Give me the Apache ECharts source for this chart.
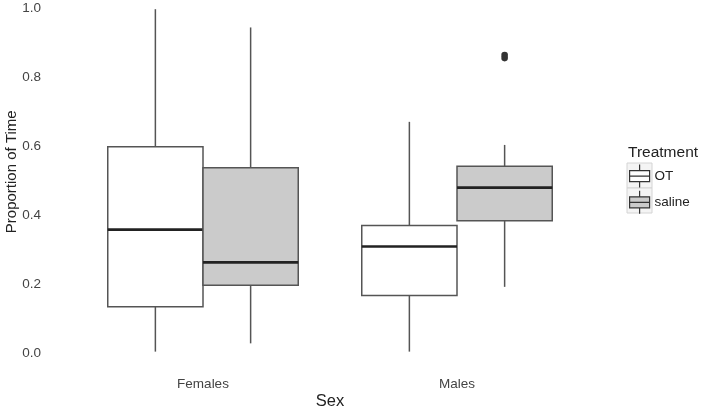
<!DOCTYPE html>
<html>
<head>
<meta charset="utf-8">
<script src="https://cdn.jsdelivr.net/npm/echarts@6/dist/echarts.min.js"></script>
<style>
  html, body { margin: 0; padding: 0; background: #fff; }
  #chart { width: 708px; height: 410px; }
</style>
</head>
<body>
<div id="chart"></div>
<script>
// data: [lower whisker, Q1, median, Q3, upper whisker]
var sexes = ['Females', 'Males'];
var otStats = [
    [0.004, 0.134, 0.358, 0.599, 0.998],
    [0.004, 0.167, 0.309, 0.370, 0.671]
];
var salineStats = [
    [0.028, 0.197, 0.263, 0.538, 0.945],
    [0.192, 0.384, 0.480, 0.542, 0.604]
];
// outliers for saline, per sex index
var salineOutliers = [
    [1, 0.865],
    [1, 0.856]
];

var BOX_HALF = 0.1875; // half box width as a fraction of the band
var lineColor = '#555555';
var font = 'Liberation Sans, Arial, sans-serif';

function toRows(stats) {
    return stats.map(function (s, i) { return [i].concat(s); });
}

function boxRender(side) {
    return function (params, api) {
        var band = api.size([1, 0])[0];
        var half = band * BOX_HALF;
        var cx = api.coord([api.value(0), 0])[0] + side * half;
        var y = function (d) { return api.coord([api.value(0), api.value(d)])[1]; };
        var lo = y(1), q1 = y(2), md = y(3), q3 = y(4), hi = y(5);
        var fill = api.visual('color');
        var ln = { stroke: lineColor, lineWidth: 1.5 };
        return {
            type: 'group',
            children: [
                { type: 'line', shape: { x1: cx, y1: hi, x2: cx, y2: q3 }, style: ln },
                { type: 'line', shape: { x1: cx, y1: q1, x2: cx, y2: lo }, style: ln },
                { type: 'rect', shape: { x: cx - half, y: q3, width: half * 2, height: q1 - q3 },
                  style: { fill: fill, stroke: lineColor, lineWidth: 1.5 } },
                { type: 'line', shape: { x1: cx - half, y1: md, x2: cx + half, y2: md },
                  style: { stroke: '#222222', lineWidth: 2.6 } }
            ]
        };
    };
}

function outlierRender(side) {
    return function (params, api) {
        var band = api.size([1, 0])[0];
        var p = api.coord([api.value(0), api.value(1)]);
        return {
            type: 'circle',
            shape: { cx: p[0] + side * band * BOX_HALF, cy: p[1], r: 3.3 },
            style: { fill: '#333333' }
        };
    };
}

var boxIcon = 'path://M10,0L10,6M0,6L20,6L20,17L0,17ZM0,11.5L20,11.5M10,17L10,23';

var chart = echarts.init(document.getElementById('chart'));
chart.setOption({
    animation: false,
    textStyle: { fontFamily: font },
    title: {
        text: 'Treatment',
        left: 628,
        top: 145,
        padding: 0,
        textStyle: { fontSize: 15.5, fontWeight: 'normal', color: '#222222', fontFamily: font }
    },
    legend: {
        orient: 'vertical',
        left: 629,
        top: 164,
        padding: 0,
        itemWidth: 20,
        itemHeight: 23,
        itemGap: 2,
        textStyle: { fontSize: 13.5, color: '#222222' },
        itemStyle: { borderColor: '#333333', borderWidth: 1.2 },
        data: [
            { name: 'OT', icon: boxIcon },
            { name: 'saline', icon: boxIcon }
        ]
    },
    graphic: [
        { type: 'rect', z: 0, shape: { x: 627, y: 163, width: 25, height: 25 },
          style: { fill: '#f4f4f4', stroke: '#d4d4d4', lineWidth: 1 } },
        { type: 'rect', z: 0, shape: { x: 627, y: 188, width: 25, height: 25 },
          style: { fill: '#f4f4f4', stroke: '#d4d4d4', lineWidth: 1 } }
    ],
    grid: { left: 76, right: 124, top: 8.5, bottom: 57, outerBoundsMode: 'none' },
    xAxis: {
        type: 'category',
        data: sexes,
        name: 'Sex',
        nameLocation: 'middle',
        nameGap: 40,
        nameMoveOverlap: false,
        nameTextStyle: { fontSize: 16.5, color: '#222222' },
        axisLine: { show: false },
        axisTick: { show: false },
        axisLabel: { margin: 24, fontSize: 13.5, color: '#444444' },
        splitLine: { show: false }
    },
    yAxis: {
        type: 'value',
        min: 0,
        max: 1,
        interval: 0.2,
        name: 'Proportion of Time',
        nameLocation: 'middle',
        nameGap: 57,
        nameMoveOverlap: false,
        nameTextStyle: { fontSize: 15, color: '#222222', padding: [0, 0, 0, 18] },
        axisLine: { show: false },
        axisTick: { show: false },
        splitLine: { show: false },
        axisLabel: {
            margin: 35,
            fontSize: 13.5,
            color: '#444444',
            formatter: function (v) { return v.toFixed(1); }
        }
    },
    series: [
        {
            name: 'OT',
            type: 'custom',
            renderItem: boxRender(-1),
            itemStyle: { color: '#ffffff' },
            encode: { x: 0, y: [1, 2, 3, 4, 5] },
            data: toRows(otStats)
        },
        {
            name: 'saline',
            type: 'custom',
            renderItem: boxRender(1),
            itemStyle: { color: '#cbcbcb' },
            encode: { x: 0, y: [1, 2, 3, 4, 5] },
            data: toRows(salineStats)
        },
        {
            name: 'saline outliers',
            type: 'custom',
            renderItem: outlierRender(1),
            encode: { x: 0, y: 1 },
            data: salineOutliers
        }
    ]
});
</script>
</body>
</html>
